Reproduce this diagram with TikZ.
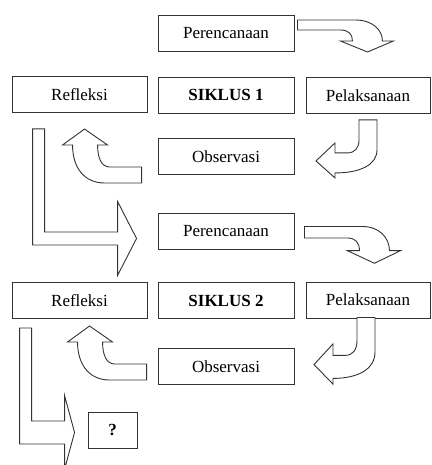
\documentclass[tikz,border=0pt]{standalone}
\usepackage{fontspec}
\setmainfont{Liberation Serif}
\usetikzlibrary{positioning}
\usetikzlibrary{calc}
\definecolor{line-gray}{HTML}{333333}
\colorlet{frame}{line-gray}
\tikzset{
  stage/.style={draw=frame,line width=0.9pt,minimum width=136,minimum height=36,inner sep=0pt,font=\fontsize{17}{20}\selectfont},
  cyclebox/.style={stage,font=\fontsize{17}{20}\selectfont\bfseries},
  blockarrow/.style={draw=frame,line width=0.9pt,fill=white,line join=miter}
}
% block arrow going right, bending down
\newcommand{\tikzbenddown}[2][]{%
\draw[blockarrow,shift={#2},#1] (0,0) -- (58,0) .. controls (75,0) and (85,10) .. (85,21)
  -- (96,21) -- (70,32) -- (43,21) -- (55,21) .. controls (55,14) and (51,10) .. (43,10) -- (0,10) -- cycle;
}
% block arrow going down, bending left
\newcommand{\tikzbendleft}[2][]{%
\draw[blockarrow,shift={#2},#1] (0,0) -- (18,0) -- (18,30) .. controls (18,45) and (1,53) .. (-24,53)
  -- (-24,58) -- (-43,41) -- (-24,23) -- (-24,33) -- (-12,33) .. controls (-4,33) and (0,28) .. (0,20) -- cycle;
}
% block arrow going left, bending up
\newcommand{\tikzbendup}[2][]{%
\draw[blockarrow,shift={#2},#1] (0,0) -- (-32,0) .. controls (-40,0) and (-44,-9) .. (-44,-22)
  -- (-34,-22) -- (-57,-38) -- (-79,-22) -- (-69,-22) .. controls (-69,1) and (-57,16) .. (-37,16) -- (0,16) -- cycle;
}
% L-shaped block arrow: down, then right
\newcommand{\tikzlturn}[5]{%
\pgfmathsetmacro{\tipy}{(#2+#3)/2}
\pgfmathsetmacro{\headtop}{\tipy-37}
\pgfmathsetmacro{\headbottom}{\tipy+37}
\draw[blockarrow,shift={#1}] (0,0) -- (12,0) -- (12,#2) -- (#4,#2) -- (#4,\headtop) -- (#5,\tipy)
  -- (#4,\headbottom) -- (#4,#3) -- (0,#3) -- cycle;
}

\begin{document}
\begin{tikzpicture}[x=1pt,y=-1pt]
\useasboundingbox (0,0) rectangle (431,465);
% cycle 1
\node[stage] (pc1) at (226,33) {Perencanaan};
\node[cyclebox] (sk1) at (226,95) {SIKLUS 1};
\node[stage,minimum width=124] (pl1) at (368,95.5) {Pelaksanaan};
\node[stage] (ob1) at (226,156.5) {Observasi};
\node[stage,minimum width=135] (rf1) at (79.5,94.5) {Refleksi};
\tikzbenddown{($(pc1.east)+(3,-13)$)}
\tikzbendleft{($(pl1.south)+(-9,6)$)}
\tikzbendup{($(ob1.west)+(-16,10.5)$)}
\tikzlturn{($(rf1.south west)+(21,16)$)}{103}{116}{85}{104}
% cycle 2
\node[stage] (pc2) at (226,231.5) {Perencanaan};
\node[cyclebox] (sk2) at (226,300.5) {SIKLUS 2};
\node[stage,minimum width=124] (pl2) at (368,300) {Pelaksanaan};
\node[stage] (ob2) at (226,366.5) {Observasi};
\node[stage,minimum width=135] (rf2) at (79.5,300.5) {Refleksi};
\tikzbenddown[yscale=1.15]{($(pc2.east)+(10,-5)$)}
\tikzbendleft[yscale=1.15]{($(pl2.south)+(-11,-1)$)}
\tikzbendup{($(ob2.west)+(-11,-2.5)$)}
\tikzlturn{($(rf2.south west)+(8,9)$)}{93}{116}{45}{55}
\node[cyclebox,minimum width=49] (next) at (112.5,430) {?};
\end{tikzpicture}
\end{document}
